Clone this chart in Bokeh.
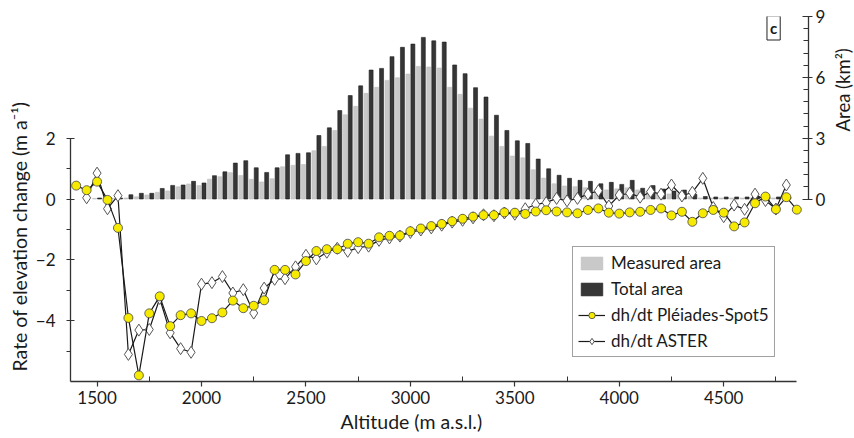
from bokeh.plotting import figure
from bokeh.layouts import row
from bokeh.models import (Range1d, LinearAxis, FixedTicker, Legend, LegendItem,
                          Label, Title, ColumnDataSource)
from bokeh.embed import file_html
from bokeh.resources import INLINE

# ---------------- data ----------------
# altitude of dh/dt points (m a.s.l.)
alt_pleiades = list(range(1400, 4900, 50))
dh_pleiades = [0.44, 0.29, 0.57, -0.03, -0.95, -3.91, -5.80, -3.76, -3.20, -4.18,
               -3.82, -3.76, -4.01, -3.92, -3.73, -3.34, -3.59, -3.51, -3.33, -2.33,
               -2.33, -2.48, -2.04, -1.71, -1.65, -1.65, -1.47, -1.42, -1.47, -1.26,
               -1.21, -1.20, -1.06, -0.97, -0.89, -0.82, -0.73, -0.65, -0.58, -0.53,
               -0.53, -0.44, -0.45, -0.49, -0.41, -0.37, -0.41, -0.44, -0.47, -0.36,
               -0.31, -0.45, -0.48, -0.44, -0.42, -0.36, -0.31, -0.54, -0.42, -0.75,
               -0.47, -0.36, -0.45, -0.90, -0.77, -0.14, 0.08, -0.34, 0.06, -0.35]

alt_aster = list(range(1450, 4850, 50))
dh_aster = [0.04, 0.85, -0.32, 0.11, -5.11, -4.31, -4.29, -3.27, -4.40, -4.92,
            -5.04, -2.80, -2.75, -2.55, -3.09, -2.98, -3.75, -2.93, -2.64, -2.62,
            -2.23, -1.85, -1.97, -1.75, -1.62, -1.72, -1.60, -1.55, -1.36, -1.28,
            -1.22, -1.10, -1.02, -0.95, -0.86, -0.76, -0.70, -0.62, -0.52, -0.55,
            -0.46, -0.50, -0.32, -0.18, -0.12, 0.02, -0.06, 0.02, 0.16, 0.27,
            -0.23, 0.13, 0.19, 0.06, 0.24, 0.16, 0.46, 0.10, 0.22, 0.68,
            -0.28, -0.58, -0.20, -0.34, 0.16, -0.05, -0.33, 0.46]

# altitude bins of the area histogram (km2)
alt_bins = list(range(1500, 4850, 50))
area_measured = [0.03, 0.03, 0.03, 0.05, 0.11, 0.20, 0.33, 0.40, 0.60, 0.74,
                 0.66, 0.98, 1.10, 1.30, 1.16, 0.97, 0.84, 1.00, 1.59, 1.66,
                 1.70, 2.38, 2.59, 3.38, 4.15, 4.57, 5.21, 5.51, 5.85, 5.98,
                 6.16, 6.54, 6.51, 6.46, 5.51, 5.16, 4.48, 3.94, 3.10, 2.59,
                 2.12, 2.03, 1.44, 1.03, 0.75, 0.64, 0.61, 0.56, 0.42, 0.45,
                 0.50, 0.55, 0.45, 0.38, 0.28, 0.25, 0.27, 0.12, 0.05, 0.05,
                 0.05, 0.05, 0.05, 0.05, 0.05, 0.05, 0.05]
area_total = [0.05, 0.05, 0.05, 0.21, 0.28, 0.28, 0.52, 0.67, 0.69, 0.87,
              0.79, 1.15, 1.34, 1.77, 1.89, 1.54, 1.31, 1.54, 2.18, 2.25,
              2.28, 3.13, 3.51, 4.36, 5.10, 5.58, 6.36, 6.44, 7.02, 7.48,
              7.64, 7.97, 7.80, 7.74, 6.61, 6.18, 5.49, 5.03, 4.13, 3.38,
              2.87, 2.74, 1.97, 1.49, 1.17, 1.02, 0.92, 0.87, 0.75, 0.82,
              0.72, 0.92, 0.53, 0.66, 0.49, 0.39, 0.44, 0.23, 0.12, 0.10,
              0.10, 0.10, 0.10, 0.10, 0.10, 0.10, 0.10]

x_ticks = [1500, 2000, 2500, 3000, 3500, 4000, 4500]
x_minor = [1750, 2250, 2750, 3250, 3750, 4250, 4750]
left_ticks = [-4, -2, 0, 2]
left_minor = [-5, -3, -1, 1]
right_ticks = [0, 3, 6, 9]
right_minor = [0.6, 1.2, 1.8, 2.4, 3.6, 4.2, 4.8, 5.4, 6.6, 7.2, 7.8, 8.4]

x_title = "Altitude (m a.s.l.)"
y_title = "Rate of elevation change (m a\u207b\u00b9)"
y2_title = "Area (km\u00b2)"

FONT = "Lato"
TXT = "#1a1a1a"
W, H = 828, 438           # main figure; a 26 px strip to its right holds the area title
SW = 26
FL, FR, FT, FB = 70, 810, 16, 381          # frame edges in page pixels
X0, X1 = 1372.8, 4906.0

p = figure(width=W, height=H, output_backend="svg", toolbar_location=None,
           x_range=Range1d(X0, X1), y_range=Range1d(-6, 6),
           min_border_left=FL, min_border_right=W - FR, min_border_top=FT,
           min_border_bottom=H - FB)
p.outline_line_color = None
p.grid.visible = False
p.background_fill_color = "white"
p.border_fill_color = "white"
p.extra_y_ranges = {"area": Range1d(-9, 9)}

def px_x(img_x):
    return X0 + (img_x - FL) * (X1 - X0) / (FR - FL)

def px_y(img_y):
    return 6 - (img_y - FT) * 12.0 / (FB - FT)

# bars (secondary axis)
bw = 19
src_bars = ColumnDataSource(dict(
    x_meas=[a - 12 for a in alt_bins], x_tot=[a + 12 for a in alt_bins],
    meas=area_measured, tot=area_total))
r_meas = p.vbar(x="x_meas", top="meas", bottom=0, width=bw, source=src_bars,
                y_range_name="area", fill_color="#c9c9c9", line_color="#bdbdbd",
                line_width=0.6)
r_tot = p.vbar(x="x_tot", top="tot", bottom=0, width=bw, source=src_bars,
               y_range_name="area", fill_color="#363636", line_color="#1e1e1e",
               line_width=0.6)

# dh/dt lines
r_al = p.line(alt_aster, dh_aster, line_color="#1a1a1a", line_width=1.2)
r_as = p.scatter(alt_aster, dh_aster, marker="diamond", size=12,
                 fill_color="white", line_color="#555555", line_width=1.0)
r_pl = p.line(alt_pleiades, dh_pleiades, line_color="#1a1a1a", line_width=1.2)
r_ps = p.scatter(alt_pleiades, dh_pleiades, marker="circle", size=9,
                 fill_color="#f5ea00", line_color="#444444", line_width=0.8)

# axes
def style(ax):
    ax.axis_line_color = "#333333"
    ax.axis_line_width = 1.3
    ax.major_tick_line_color = "#333333"
    ax.minor_tick_line_color = "#333333"
    ax.major_tick_line_width = 1.2
    ax.minor_tick_line_width = 1.0
    ax.major_label_text_font = FONT
    ax.major_label_text_font_size = "17px"
    ax.major_label_text_color = TXT

xa = p.xaxis[0]
style(xa)
xa.ticker = FixedTicker(ticks=x_ticks, minor_ticks=x_minor)
xa.bounds = (X0, 4850)
xa.major_tick_in = 0
xa.major_tick_out = 5
xa.minor_tick_in = 5
xa.minor_tick_out = 0
xa.major_label_standoff = 4

ya = p.yaxis[0]
style(ya)
ya.ticker = FixedTicker(ticks=left_ticks, minor_ticks=left_minor)
ya.bounds = (-6, 2)
ya.major_tick_in = 4
ya.major_tick_out = 4
ya.minor_tick_in = 0
ya.minor_tick_out = 4
ya.major_label_standoff = 11

ra = LinearAxis(y_range_name="area",
                ticker=FixedTicker(ticks=right_ticks, minor_ticks=right_minor),
                bounds=(0, 9))
style(ra)
ra.major_tick_in = 6
ra.major_tick_out = 4
ra.minor_tick_in = 5
ra.minor_tick_out = 0
ra.major_label_standoff = 3
p.add_layout(ra, "right")

# axis titles
p.add_layout(Title(text=x_title, align="left", offset=270, standoff=2,
                   text_font=FONT, text_font_size="19.5px",
                   text_font_style="normal", text_color=TXT), "below")
p.add_layout(Title(text=y_title, align="left", offset=10, standoff=4,
                   text_font=FONT, text_font_size="19.5px",
                   text_font_style="normal", text_color=TXT), "left")

# panel letter
p.add_layout(Label(x=px_x(775), y=px_y(27.5), text="c", text_align="center",
                   text_baseline="middle", text_font=FONT, text_font_size="15px",
                   text_font_style="bold", text_color=TXT,
                   border_line_color="#222222", border_line_width=1,
                   background_fill_color="white", padding=3))

legend = Legend(items=[
    LegendItem(label="Measured area", renderers=[r_meas]),
    LegendItem(label="Total area", renderers=[r_tot]),
    LegendItem(label="dh/dt Pl\u00e9iades-Spot5", renderers=[r_pl, r_ps]),
    LegendItem(label="dh/dt ASTER", renderers=[r_al, r_as]),
], location=(502, 24))
legend.label_text_font = FONT
legend.label_text_font_size = "17px"
legend.label_text_color = TXT
legend.glyph_width = 27
legend.glyph_height = 16
legend.label_height = 16
legend.spacing = 5
legend.padding = 5
legend.margin = 0
legend.label_standoff = 6
legend.border_line_color = "#444444"
legend.border_line_width = 1
legend.background_fill_alpha = 1
p.add_layout(legend, "center")

# narrow strip on the right carrying the secondary-axis title (reads bottom to top)
s = figure(width=SW, height=H, output_backend="svg", toolbar_location=None,
           x_range=Range1d(0, SW), y_range=Range1d(0, H),
           min_border_left=0, min_border_right=0, min_border_top=0,
           min_border_bottom=0)
s.axis.visible = False
s.grid.visible = False
s.outline_line_color = None
s.background_fill_color = "white"
s.border_fill_color = "white"
s.add_layout(Label(x=14, y=H - 88, text=y2_title, text_align="center",
                   text_baseline="middle", text_font=FONT, text_font_size="18.5px",
                   text_color=TXT, angle=90, angle_units="deg"))

layout = row(p, s, spacing=0)
open("out.html", "w").write(file_html(layout, INLINE))
